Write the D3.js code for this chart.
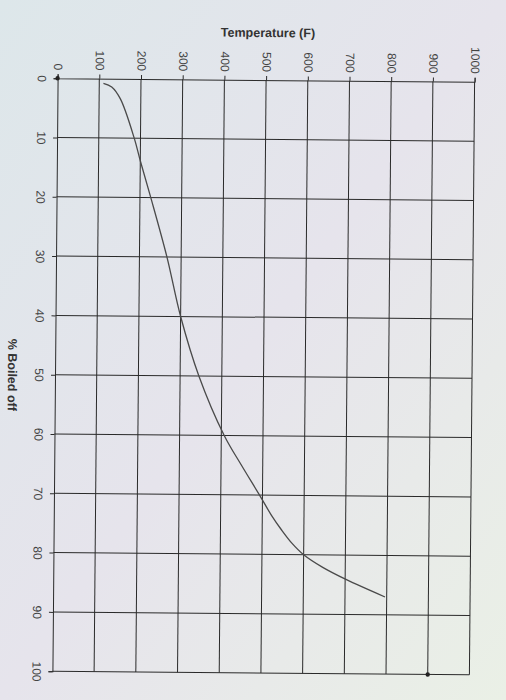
<!DOCTYPE html>
<html>
<head>
<meta charset="utf-8">
<script src="https://cdn.jsdelivr.net/npm/d3@7"></script>
<style>
  html, body { margin: 0; padding: 0; background: #e3eaec; }
  svg { display: block; }
</style>
</head>
<body>
<script>
// Data
const pctBoiled   = [0.8, 1.4, 3.4, 10, 13.8, 20, 30, 40, 50, 60, 65, 70, 73.4, 75.9, 78.1, 80, 82.1, 84.1, 87];
const temperature = [110, 130, 151, 185, 200, 226, 266, 300, 345, 407, 449, 493, 522, 547, 572, 600, 646, 702, 796];
const markerPct   = [0, 100];
const markerTemp  = [0, 900];
const tempTicks   = [0, 100, 200, 300, 400, 500, 600, 700, 800, 900, 1000];
const pctTicks    = [0, 10, 20, 30, 40, 50, 60, 70, 80, 90, 100];

const W = 506, H = 700;
const svg = d3.select("body").append("svg").attr("width", W).attr("height", H);

const defs = svg.append("defs");
const grad = defs.append("linearGradient").attr("id", "bg")
  .attr("x1", "0").attr("y1", "0").attr("x2", "1").attr("y2", "1");
grad.append("stop").attr("offset", "0").attr("stop-color", "#dde7ea");
grad.append("stop").attr("offset", "0.5").attr("stop-color", "#e6e4ec");
grad.append("stop").attr("offset", "1").attr("stop-color", "#eaf0e6");
svg.append("rect").attr("width", W).attr("height", H).attr("fill", "url(#bg)");

const g = svg.append("g").attr("transform", "rotate(0.5, 263, 377)");

const x = d3.scaleLinear().domain([0, 1000]).range([55, 472]);
const y = d3.scaleLinear().domain([0, 100]).range([80, 673]);

const gridColor = "#2a2a2a";
const fontFam = "'Liberation Sans', Arial, sans-serif";

// Temperature axis (top) with vertical gridlines
const xAxis = d3.axisTop(x).tickValues(tempTicks).tickSize(4).tickFormat(d3.format("d"));
const gx = g.append("g").attr("transform", `translate(0,${y(0)})`).call(xAxis);
gx.select(".domain").attr("stroke", gridColor);
gx.selectAll(".tick line").attr("stroke", gridColor);
gx.selectAll(".tick text")
  .attr("font-family", fontFam).attr("font-size", 12).attr("fill", "#444")
  .attr("transform", "rotate(90)")
  .attr("x", -8).attr("y", 0).attr("dy", "0.35em")
  .attr("text-anchor", "end");

// Percent axis (left) with horizontal gridlines
const yAxis = d3.axisLeft(y).tickValues(pctTicks).tickSize(4).tickFormat(d3.format("d"));
const gy = g.append("g").attr("transform", `translate(${x(0)},0)`).call(yAxis);
gy.select(".domain").attr("stroke", gridColor);
gy.selectAll(".tick line").attr("stroke", gridColor);
gy.selectAll(".tick text")
  .attr("font-family", fontFam).attr("font-size", 12).attr("fill", "#444")
  .attr("transform", "rotate(90)")
  .attr("x", 0).attr("y", 20).attr("dy", "0")
  .attr("text-anchor", "middle");

// Gridlines
g.append("g").selectAll("line.v").data(tempTicks.slice(1)).join("line")
  .attr("x1", d => x(d)).attr("x2", d => x(d))
  .attr("y1", y(0)).attr("y2", y(100))
  .attr("stroke", gridColor).attr("stroke-width", 1);
g.append("g").selectAll("line.h").data(pctTicks.slice(1)).join("line")
  .attr("x1", x(0)).attr("x2", x(1000))
  .attr("y1", d => y(d)).attr("y2", d => y(d))
  .attr("stroke", gridColor).attr("stroke-width", 1);

// Curve
const pts = pctBoiled.map((p, i) => [temperature[i], p]);
const line = d3.line().x(d => x(d[0])).y(d => y(d[1])).curve(d3.curveCatmullRom.alpha(0.5));
g.append("path").datum(pts).attr("d", line)
  .attr("fill", "none").attr("stroke", "#4a4a4a").attr("stroke-width", 1.3);

// Markers
g.append("g").selectAll("circle").data(markerPct.map((p, i) => [markerTemp[i], p])).join("circle")
  .attr("cx", d => x(d[0])).attr("cy", d => y(d[1])).attr("r", 2.2).attr("fill", "#222");

// Titles
g.append("text").attr("x", 265).attr("y", 37)
  .attr("text-anchor", "middle").attr("font-family", fontFam)
  .attr("font-size", 12.5).attr("font-weight", "bold").attr("fill", "#333")
  .text("Temperature (F)");

g.append("text").attr("transform", `translate(8,${377}) rotate(90)`)
  .attr("text-anchor", "middle").attr("font-family", fontFam)
  .attr("font-size", 12.5).attr("font-weight", "bold").attr("fill", "#333")
  .text("% Boiled off");
</script>
</body>
</html>
